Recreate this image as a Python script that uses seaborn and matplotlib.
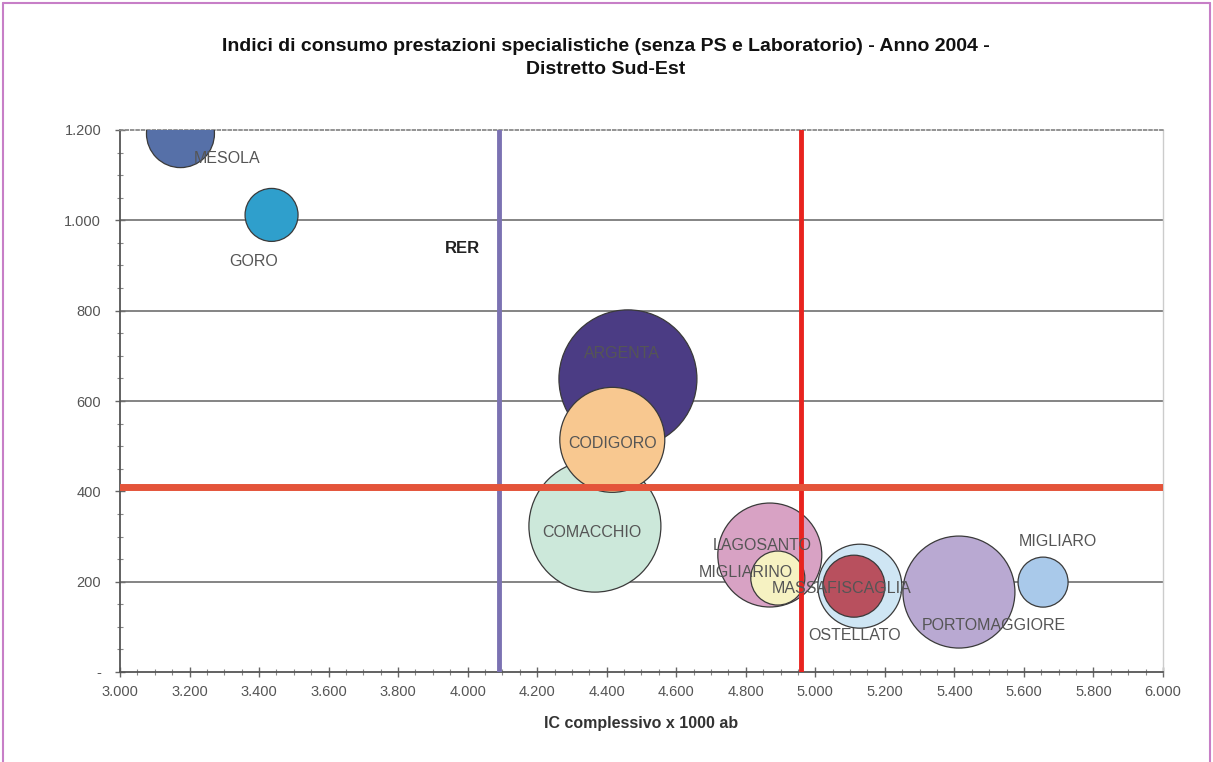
import matplotlib
matplotlib.use("Agg")
import matplotlib.pyplot as plt
import matplotlib.transforms as mtransforms
from matplotlib.lines import Line2D
from matplotlib.ticker import MultipleLocator, FuncFormatter
import numpy as np
import pandas as pd
import seaborn as sns

# --- dati ---------------------------------------------------------------
comuni = ["MESOLA", "GORO", "ARGENTA", "CODIGORO", "COMACCHIO", "LAGOSANTO",
          "MIGLIARINO", "OSTELLATO", "MASSAFISCAGLIA", "PORTOMAGGIORE", "MIGLIARO"]
ic_complessivo = [3174, 3436, 4461, 4416, 4366, 4869, 4892, 5128, 5111, 5413, 5655]
ic_specialistica = [1192, 1012, 649, 514, 323, 259, 208, 190, 190, 177, 199]
abitanti = [5340, 3245, 22000, 12735, 20125, 12490, 3370, 8150, 4440, 14490, 2890]

rer_x = 4090        # valore regionale, asse x
distretto_x = 4960  # media distretto, asse x
distretto_y = 410   # media distretto, asse y

colori = {
    "MESOLA": "#5670a8", "GORO": "#2f9fcc", "ARGENTA": "#4b3c84",
    "CODIGORO": "#f8c890", "COMACCHIO": "#cce8da", "LAGOSANTO": "#d8a2c4",
    "MIGLIARINO": "#f6f2c2", "OSTELLATO": "#cfe6f4", "MASSAFISCAGLIA": "#b8505e",
    "PORTOMAGGIORE": "#b9a9d2", "MIGLIARO": "#a9c9ea",
}
# posizione delle etichette rispetto al centro della bolla (pixel)
offset_etichette = {
    "MESOLA": (47, -25), "GORO": (-18, -47), "ARGENTA": (-6, 25),
    "CODIGORO": (0, -4), "COMACCHIO": (-3, -6), "LAGOSANTO": (-8, 10),
    "MIGLIARINO": (-32, 6), "OSTELLATO": (-5, -49), "MASSAFISCAGLIA": (-12, -2),
    "PORTOMAGGIORE": (35, -33), "MIGLIARO": (15, 41),
}

df = pd.DataFrame({"comune": comuni, "ic": ic_complessivo,
                   "spec": ic_specialistica, "abitanti": abitanti})
df = df.sort_values("abitanti", ascending=False)

# --- figura -------------------------------------------------------------
sns.set_theme(style="white")
plt.rcParams["font.family"] = ["Liberation Sans", "DejaVu Sans"]

fig = plt.figure(figsize=(12.13, 7.62), dpi=100)
ax = fig.add_axes([0.0989, 0.1181, 0.8599, 0.7113])

# area della bolla proporzionale agli abitanti
k = 0.4487
sns.scatterplot(data=df, x="ic", y="spec", hue="comune", palette=colori,
                size="abitanti", sizes=(min(abitanti) * k, max(abitanti) * k),
                edgecolor="#3a3a3a", linewidth=0.9, alpha=1.0,
                legend=False, ax=ax, zorder=3)

ax.set_xlim(3000, 6000)
ax.set_ylim(0, 1200)

# griglia orizzontale
for yv in [200, 600, 800, 1000]:
    ax.axhline(yv, color="#707070", lw=1.2, zorder=1)

# linee di riferimento
ax.axvline(rer_x, color="#7b72b2", lw=3.5, zorder=4)
ax.axvline(distretto_x, color="#e8231f", lw=3.5, zorder=4)
ax.axhline(distretto_y, color="#e4543a", lw=5, zorder=4)

ax.text(rer_x, 0.782, "RER", transform=mtransforms.offset_copy(
    ax.get_xaxis_transform(), fig=fig, x=-37, y=0, units="dots"),
    ha="center", va="center", fontsize=12, fontweight="bold", color="#222222")

for _, r in df.iterrows():
    dx, dy = offset_etichette[r["comune"]]
    ax.annotate(r["comune"], (r["ic"], r["spec"]), xytext=(dx, dy),
                textcoords="offset pixels", ha="center", va="center",
                fontsize=11.5, color="#555555", zorder=6)

# assi
ax.xaxis.set_major_locator(MultipleLocator(200))
ax.xaxis.set_minor_locator(MultipleLocator(50))
ax.yaxis.set_major_locator(MultipleLocator(200))
ax.yaxis.set_minor_locator(MultipleLocator(50))

fmt = FuncFormatter(lambda v, p: "-" if v == 0 else f"{int(v):,}".replace(",", "."))
ax.xaxis.set_major_formatter(fmt)
ax.yaxis.set_major_formatter(fmt)

ax.tick_params(axis="both", which="major", direction="inout", length=7,
               width=1, color="#666666", labelsize=10.5, labelcolor="#555555",
               bottom=True, left=True)
ax.tick_params(axis="both", which="minor", direction="inout", length=4,
               width=0.8, color="#888888", bottom=True, left=True)
ax.tick_params(axis="x", pad=6)
ax.tick_params(axis="y", pad=10)

for s in ["left", "bottom"]:
    ax.spines[s].set_color("#555555")
    ax.spines[s].set_linewidth(1.3)
ax.spines["top"].set_color("#8a8a8a")
ax.spines["top"].set_linestyle((0, (1.5, 1.5)))
ax.spines["top"].set_linewidth(1.3)
ax.spines["right"].set_color("#cccccc")
ax.spines["right"].set_linewidth(1)

ax.set_xlabel("IC complessivo x 1000 ab", fontsize=11.5, fontweight="bold",
              color="#333333", labelpad=12)
ax.set_ylabel("")

fig.text(0.4996, 0.924, "Indici di consumo prestazioni specialistiche (senza PS e Laboratorio) - Anno 2004 -\nDistretto Sud-Est",
         ha="center", va="center", fontsize=14, fontweight="bold",
         color="#111111", linespacing=1.4)

# cornice della pagina
bordo = "#c77fc7"
fig.add_artist(Line2D([3 / 1213, 3 / 1213], [0, 1 - 3 / 762], color=bordo, lw=1.5))
fig.add_artist(Line2D([1210 / 1213, 1210 / 1213], [0, 1 - 3 / 762], color=bordo, lw=1.5))
fig.add_artist(Line2D([3 / 1213, 1210 / 1213], [1 - 3 / 762, 1 - 3 / 762], color=bordo, lw=1.5))

fig.savefig("out.png", dpi=100)
